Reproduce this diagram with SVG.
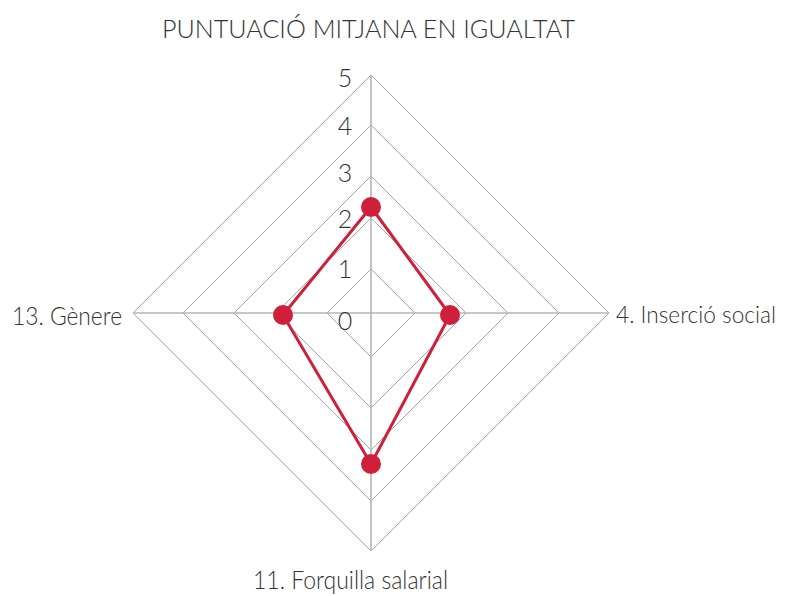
<svg xmlns="http://www.w3.org/2000/svg" width="786" height="596" viewBox="0 0 786 596">
<style>
.ring{fill:none;stroke:#a8a8a8;stroke-width:1}
.axis{stroke:#b4b4b4;stroke-width:1.6}
.series{fill:none;stroke:#d01f3a;stroke-width:3;stroke-linejoin:round}
.pt{fill:#d01f3a}
text{font-family:Lato,"Open Sans","Liberation Sans",sans-serif;font-weight:300;fill:#333}
.lbl{font-size:26px}
.num{font-size:25px;text-anchor:middle}
</style>
<rect width="786" height="596" fill="#fff"/>
<text class="lbl" x="162" y="38" textLength="413" lengthAdjust="spacingAndGlyphs">PUNTUACIÓ MITJANA EN IGUALTAT</text>
<g id="grid">
<polygon class="ring" points="371,269 415,313 371,357 327,313"/>
<polygon class="ring" points="371,218 466,313 371,408 276,313"/>
<polygon class="ring" points="371,176 508,313 371,450 234,313"/>
<polygon class="ring" points="371,125 559,313 371,501 183,313"/>
<polygon class="ring" points="371,75 609,313 371,551 133,313"/>
<line class="axis" x1="371" y1="75" x2="371" y2="551"/>
<line class="axis" x1="133" y1="313" x2="609" y2="313"/>
</g>
<g id="scale">
<text class="num" x="345" y="87">5</text>
<text class="num" x="345" y="135">4</text>
<text class="num" x="345" y="182">3</text>
<text class="num" x="345" y="228">2</text>
<text class="num" x="345" y="278">1</text>
<text class="num" x="345" y="330">0</text>
</g>
<g id="connectors">
<polygon class="series" points="371,207 450,315 371,464 283,315"/>
</g>
<g id="node-top"><circle class="pt" cx="371" cy="207" r="10"/></g>
<g id="node-right"><circle class="pt" cx="450" cy="315" r="10"/></g>
<g id="node-bottom"><circle class="pt" cx="371" cy="464" r="10"/></g>
<g id="node-left"><circle class="pt" cx="283" cy="315" r="10"/></g>
<g id="label-left"><text class="lbl" x="12" y="325" textLength="110" lengthAdjust="spacingAndGlyphs">13. Gènere</text></g>
<g id="label-right"><text x="616" y="323" font-size="24" textLength="160" lengthAdjust="spacingAndGlyphs">4. Inserció social</text></g>
<g id="label-bottom"><text class="lbl" x="253" y="589" textLength="195" lengthAdjust="spacingAndGlyphs">11. Forquilla salarial</text></g>
</svg>
